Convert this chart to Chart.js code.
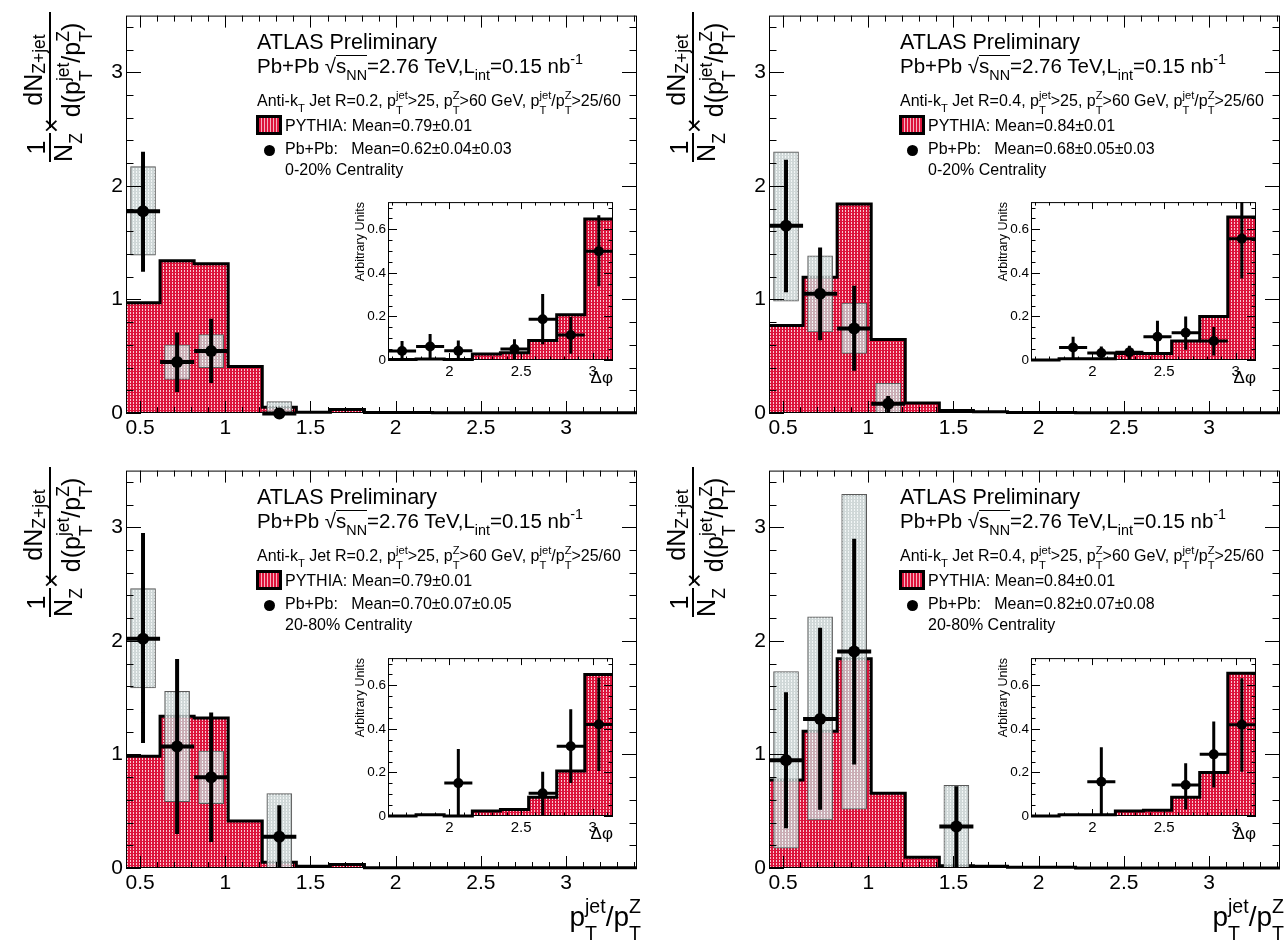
<!DOCTYPE html>
<html>
<head>
<meta charset="utf-8">
<title>Z+jet pT balance, Pb+Pb</title>
<script src="https://cdn.jsdelivr.net/npm/chart.js@4.4.1/dist/chart.umd.min.js"></script>
<style>
  body { margin: 0; background: #fff; }
  #page { position: relative; width: 1286px; height: 943px; overflow: hidden;
          font-family: "Liberation Sans", Arial, sans-serif; color: #000; }
  .panel { position: absolute; width: 643px; }
  .panel canvas { position: absolute; left: 0; top: 0; }
  .tl { position: absolute; line-height: 1; white-space: pre; }
  .sb { font-size: 70%; position: relative; top: 0.55em; }
  .sp { font-size: 70%; position: relative; top: -0.6em; }
  .ss { display: inline-block; position: relative; font-size: 70%; line-height: 1; }
  .ss .u { position: relative; top: -0.65em; }
  .ss .d { position: absolute; left: 0; top: 0.7em; }
  .ov { display: inline-block; line-height: 1; border-top: 1.5px solid #000; }
  .ytitle { position: absolute; width: 160px; height: 80px; font-size: 25px;
            transform: rotate(-90deg); transform-origin: 0 0; }
  .ytitle .t { position: absolute; line-height: 1; white-space: pre; text-align: center; }
  .ytitle .bar { position: absolute; top: 29px; height: 2px; background: #000; }
  .lbox { position: absolute; box-sizing: border-box; border: 3px solid #000;
          background: repeating-linear-gradient(90deg, #dc143c 0 2px, #f4b3c1 2px 3px); }
  .dot { position: absolute; width: 11px; height: 11px; border-radius: 50%; background: #000; }
</style>
</head>
<body>
<div id="page"></div>
<script>
// main panels: p_T^jet / p_T^Z bins
var edges = [0.417, 0.617, 0.817, 1.017, 1.217, 1.417, 1.617, 1.817, 2.017, 2.217, 2.417, 2.617, 2.817, 3.017, 3.217, 3.417];
var xTicks = [0.5, 1, 1.5, 2, 2.5, 3];
var yTicks = [0, 1, 2, 3];

// inset: delta phi bins (pi/2 .. pi)
var dphiEdges = [1.571, 1.767, 1.963, 2.160, 2.356, 2.553, 2.749, 2.945, 3.142];
var dphiTicks = [2, 2.5, 3];
var auTicks = [0, 0.2, 0.4, 0.6];

// R=0.2, 0-20%
var pythiaA = [0.97, 1.34, 1.315, 0.41, 0.05, 0.006, 0.03, 0.004, 0.004, 0.003, 0.003, 0.003, 0.003, 0.003, 0.003];
var ppA_x = [0.517, 0.717, 0.917, 1.317];
var ppA_y = [1.776, 0.45, 0.545, -0.005];
var ppA_lo = [1.245, 0.186, 0.265, -0.02];
var ppA_hi = [2.30, 0.71, 0.83, 0.02];
var sysA_lo = [1.39, 0.295, 0.40, 0];
var sysA_hi = [2.17, 0.60, 0.69, 0.10];
var inPyA = [0.002, 0.005, 0.002, 0.027, 0.033, 0.089, 0.208, 0.647];
var inA_x = [1.669, 1.865, 2.062, 2.454, 2.651, 2.847, 3.043];
var inA_y = [0.041, 0.062, 0.042, 0.05, 0.187, 0.115, 0.499];
var inA_lo = [0, 0, 0, 0, 0.072, 0.029, 0.339];
var inA_hi = [0.087, 0.119, 0.09, 0.095, 0.303, 0.198, 0.665];

// R=0.4, 0-20%
var pythiaB = [0.77, 1.195, 1.84, 0.647, 0.087, 0.023, 0.01, 0.005, 0.005, 0.002, 0.002, 0.002, 0.002, 0.002, 0.002];
var ppB_x = [0.517, 0.717, 0.917, 1.117];
var ppB_y = [1.65, 1.05, 0.744, 0.081];
var ppB_lo = [1.064, 0.64, 0.373, 0];
var ppB_hi = [2.23, 1.457, 1.12, 0.15];
var sysB_lo = [0.985, 0.714, 0.525, 0];
var sysB_hi = [2.30, 1.385, 0.968, 0.262];
var inPyB = [0, 0.006, 0.006, 0.03, 0.03, 0.087, 0.2, 0.657];
var inB_x = [1.865, 2.062, 2.258, 2.454, 2.651, 2.847, 3.043];
var inB_y = [0.057, 0.032, 0.036, 0.107, 0.125, 0.087, 0.557];
var inB_lo = [0.009, 0, 0, 0.027, 0.047, 0.021, 0.374];
var inB_hi = [0.107, 0.062, 0.066, 0.18, 0.2, 0.152, 0.73];

// R=0.2, 20-80%
var pythiaC = [0.985, 1.336, 1.32, 0.415, 0.05, 0.015, 0.03, 0.003, 0.003, 0.003, 0.003, 0.003, 0.003, 0.003, 0.003];
var ppC_x = [0.517, 0.717, 0.917, 1.317];
var ppC_y = [2.02, 1.07, 0.80, 0.275];
var ppC_lo = [1.10, 0.30, 0.23, 0];
var ppC_hi = [2.95, 1.84, 1.37, 0.553];
var sysC_lo = [1.585, 0.585, 0.567, 0];
var sysC_hi = [2.46, 1.555, 1.03, 0.655];
var inPyC = [0, 0.006, 0, 0.023, 0.03, 0.086, 0.207, 0.65];
var inC_x = [2.062, 2.651, 2.847, 3.043];
var inC_y = [0.151, 0.104, 0.32, 0.42];
var inC_lo = [0, 0, 0.151, 0.207];
var inC_hi = [0.308, 0.203, 0.49, 0.635];

// R=0.4, 20-80%
var pythiaD = [0.775, 1.205, 1.842, 0.658, 0.094, 0.02, 0.015, 0.006, 0.006, 0, 0, 0, 0, 0, 0];
var ppD_x = [0.517, 0.717, 0.917, 1.517];
var ppD_y = [0.95, 1.313, 1.906, 0.365];
var ppD_lo = [0.351, 0.512, 0.912, 0];
var ppD_hi = [1.547, 2.117, 2.90, 0.72];
var sysD_lo = [0.175, 0.424, 0.518, 0];
var sysD_hi = [1.731, 2.213, 3.29, 0.728];
var inPyD = [0, 0.006, 0.006, 0.023, 0.026, 0.086, 0.2, 0.656];
var inD_x = [2.062, 2.651, 2.847, 3.043];
var inD_y = [0.157, 0.142, 0.283, 0.419];
var inD_lo = [0, 0.03, 0.131, 0.203];
var inD_hi = [0.316, 0.242, 0.434, 0.633];

var panels = [
  { left: 0, top: 0, h: 455, insetTop: 192, bottom: false,
    R: '0.2', pyMean: '0.79±0.01', ppMean: '0.62±0.04±0.03', cent: '0-20%',
    py: pythiaA, px: ppA_x, pv: ppA_y, lo: ppA_lo, hi: ppA_hi, slo: sysA_lo, shi: sysA_hi,
    ipy: inPyA, ix: inA_x, iv: inA_y, ilo: inA_lo, ihi: inA_hi },
  { left: 643, top: 0, h: 455, insetTop: 192, bottom: false,
    R: '0.4', pyMean: '0.84±0.01', ppMean: '0.68±0.05±0.03', cent: '0-20%',
    py: pythiaB, px: ppB_x, pv: ppB_y, lo: ppB_lo, hi: ppB_hi, slo: sysB_lo, shi: sysB_hi,
    ipy: inPyB, ix: inB_x, iv: inB_y, ilo: inB_lo, ihi: inB_hi },
  { left: 0, top: 455, h: 488, insetTop: 193, bottom: true,
    R: '0.2', pyMean: '0.79±0.01', ppMean: '0.70±0.07±0.05', cent: '20-80%',
    py: pythiaC, px: ppC_x, pv: ppC_y, lo: ppC_lo, hi: ppC_hi, slo: sysC_lo, shi: sysC_hi,
    ipy: inPyC, ix: inC_x, iv: inC_y, ilo: inC_lo, ihi: inC_hi },
  { left: 643, top: 455, h: 488, insetTop: 193, bottom: true,
    R: '0.4', pyMean: '0.84±0.01', ppMean: '0.82±0.07±0.08', cent: '20-80%',
    py: pythiaD, px: ppD_x, pv: ppD_y, lo: ppD_lo, hi: ppD_hi, slo: sysD_lo, shi: sysD_hi,
    ipy: inPyD, ix: inD_x, iv: inD_y, ilo: inD_lo, ihi: inD_hi }
];

Chart.defaults.font.family = '"Liberation Sans", Arial, sans-serif';
Chart.defaults.color = '#000';

function makePattern(base, mark) {
  var c = document.createElement('canvas');
  c.width = 3; c.height = 3;
  var g = c.getContext('2d');
  g.fillStyle = base; g.fillRect(0, 0, 3, 3);
  g.fillStyle = mark; g.fillRect(1, 0, 1, 2);
  return g.createPattern(c, 'repeat');
}
var redPat = makePattern('#dc143c', '#f8c8d2');
var grayPat = makePattern('rgba(198,208,208,0.82)', 'rgba(250,252,252,0.82)');

// error bars on the data points (stat. errors + bin width)
var errBars = {
  id: 'errBars',
  afterDatasetsDraw: function (chart) {
    var ctx = chart.ctx, a = chart.chartArea, xs = chart.scales.x, ys = chart.scales.y;
    chart.data.datasets.forEach(function (ds) {
      if (!ds.errLo) return;
      ctx.save();
      ctx.beginPath();
      ctx.rect(a.left, a.top, a.right - a.left, a.bottom - a.top + 6);
      ctx.clip();
      ctx.strokeStyle = '#000';
      ctx.lineWidth = ds.errWidth;
      ctx.beginPath();
      ds.data.forEach(function (p, j) {
        var px = xs.getPixelForValue(p.x), py = ys.getPixelForValue(p.y);
        ctx.moveTo(px, ys.getPixelForValue(ds.errLo[j]));
        ctx.lineTo(px, ys.getPixelForValue(ds.errHi[j]));
        ctx.moveTo(xs.getPixelForValue(p.x - ds.halfBin), py);
        ctx.lineTo(xs.getPixelForValue(p.x + ds.halfBin), py);
      });
      ctx.stroke();
      ctx.restore();
    });
  }
};

function tickValues(min, max, step) {
  var out = [], k0 = Math.ceil(min / step - 1e-6), k1 = Math.floor(max / step + 1e-6);
  for (var k = k0; k <= k1; k++) out.push(k * step);
  return out;
}
function isMajor(v, major) {
  return Math.abs(v / major - Math.round(v / major)) < 1e-6;
}

// ROOT style frame with inward ticks on all four sides
var rootFrame = {
  id: 'rootFrame',
  afterDraw: function (chart, args, o) {
    if (!o || !o.xMinor) return;
    var ctx = chart.ctx, a = chart.chartArea, xs = chart.scales.x, ys = chart.scales.y;
    ctx.save();
    ctx.strokeStyle = '#000';
    ctx.lineWidth = 1;
    ctx.strokeRect(a.left + 0.5, a.top + 0.5, a.right - a.left - 1, a.bottom - a.top - 1);
    ctx.beginPath();
    tickValues(xs.min, xs.max, o.xMinor).forEach(function (v) {
      var L = isMajor(v, o.xMajor) ? o.xLen : o.xLen / 2;
      var px = Math.round(xs.getPixelForValue(v)) + 0.5;
      ctx.moveTo(px, a.bottom); ctx.lineTo(px, a.bottom - L);
      ctx.moveTo(px, a.top); ctx.lineTo(px, a.top + L);
    });
    tickValues(ys.min, ys.max, o.yMinor).forEach(function (v) {
      var L = isMajor(v, o.yMajor) ? o.yLen : o.yLen / 2;
      var py = Math.round(ys.getPixelForValue(v)) + 0.5;
      ctx.moveTo(a.left, py); ctx.lineTo(a.left + L, py);
      ctx.moveTo(a.right, py); ctx.lineTo(a.right - L, py);
    });
    ctx.stroke();
    ctx.restore();
  }
};
Chart.register(errBars, rootFrame);

function xy(xs, ys) {
  return xs.map(function (x, i) { return { x: x, y: ys[i] }; });
}
function histPoints(e, vals) {
  return e.map(function (x, i) { return { x: x, y: vals[Math.min(i, vals.length - 1)] }; });
}
function setTicks(list) {
  return function (s) { s.ticks = list.map(function (v) { return { value: v }; }); };
}
function plainLabel(v) { return String(v); }

function mainChart(canvas, p) {
  var xh = p.h - 13 - 400;
  return new Chart(canvas, {
    type: 'scatter',
    data: {
      datasets: [
        { type: 'scatter', data: xy(p.px, p.pv), errLo: p.lo, errHi: p.hi, halfBin: 0.1, errWidth: 4,
          pointRadius: 6, backgroundColor: '#000', borderWidth: 0, clip: false, order: 1 },
        { type: 'bar', data: p.px.map(function (x, i) { return { x: x, y: [p.slo[i], p.shi[i]] }; }),
          barThickness: 25, backgroundColor: grayPat, borderColor: '#5a5a5a', borderWidth: 1,
          borderSkipped: false, order: 2 },
        { type: 'line', data: histPoints(edges, p.py), stepped: true, fill: 'origin',
          backgroundColor: redPat, borderColor: '#000', borderWidth: 3, borderJoinStyle: 'miter',
          pointRadius: 0, order: 3, clip: { left: 0, top: 0, right: 0, bottom: 3 } }
      ]
    },
    options: {
      responsive: false, animation: false, devicePixelRatio: 1, events: [],
      layout: { padding: { left: 0, right: 2, top: 13, bottom: 0 } },
      plugins: {
        legend: { display: false }, tooltip: { enabled: false },
        rootFrame: { xMajor: 0.5, xMinor: 0.1, xLen: 12, yMajor: 1, yMinor: 0.2, yLen: 15 }
      },
      scales: {
        x: { type: 'linear', min: edges[0], max: edges[edges.length - 1], offset: false,
             grid: { display: false, drawTicks: false }, border: { display: false },
             afterBuildTicks: setTicks(xTicks),
             afterFit: function (s) { s.height = xh; },
             ticks: { font: { size: 21 }, padding: 3, maxRotation: 0, autoSkip: false, callback: plainLabel } },
        y: { type: 'linear', min: 0, max: 3.5,
             grid: { display: false, drawTicks: false }, border: { display: false },
             afterBuildTicks: setTicks(yTicks),
             afterFit: function (s) { s.width = 126; },
             ticks: { font: { size: 21 }, padding: 3, autoSkip: false, callback: plainLabel } }
      }
    }
  });
}

function insetChart(canvas, p) {
  return new Chart(canvas, {
    type: 'scatter',
    data: {
      datasets: [
        { type: 'scatter', data: xy(p.ix, p.iv), errLo: p.ilo, errHi: p.ihi,
          halfBin: (dphiEdges[1] - dphiEdges[0]) / 2, errWidth: 3,
          pointRadius: 5, backgroundColor: '#000', borderWidth: 0, clip: false, order: 1 },
        { type: 'line', data: histPoints(dphiEdges, p.ipy), stepped: true, fill: 'origin',
          backgroundColor: redPat, borderColor: '#000', borderWidth: 3, borderJoinStyle: 'miter',
          pointRadius: 0, order: 2, clip: { left: 0, top: 0, right: 0, bottom: 3 } }
      ]
    },
    options: {
      responsive: false, animation: false, devicePixelRatio: 1, events: [],
      layout: { padding: { left: 0, right: 5, top: 8, bottom: 0 } },
      plugins: {
        legend: { display: false }, tooltip: { enabled: false },
        rootFrame: { xMajor: 0.5, xMinor: 0.1, xLen: 7, yMajor: 0.2, yMinor: 0.05, yLen: 9 }
      },
      scales: {
        x: { type: 'linear', min: dphiEdges[0], max: dphiEdges[dphiEdges.length - 1], offset: false,
             grid: { display: false, drawTicks: false }, border: { display: false },
             afterBuildTicks: setTicks(dphiTicks),
             afterFit: function (s) { s.height = 42; },
             ticks: { font: { size: 15 }, padding: 3, maxRotation: 0, autoSkip: false, callback: plainLabel },
             title: { display: true, text: 'Δφ', align: 'end', font: { size: 17 }, padding: { top: 0, bottom: 13 } } },
        y: { type: 'linear', min: 0, max: 0.725,
             grid: { display: false, drawTicks: false }, border: { display: false },
             afterBuildTicks: setTicks(auTicks),
             afterFit: function (s) { s.width = 50; },
             ticks: { font: { size: 13.5 }, padding: 2, autoSkip: false, callback: plainLabel },
             title: { display: true, text: 'Arbitrary Units', align: 'end', font: { size: 12.5 }, padding: { top: 15, bottom: 0 } } }
      }
    }
  });
}

function ss(up, down) {
  return '<span class="ss"><span class="u">' + up + '</span><span class="d">' + down + '</span></span>';
}
function tl(x, base, size, html) {
  return '<div class="tl" style="left:' + x + 'px;top:' + (base - 0.8465 * size).toFixed(1) +
    'px;font-size:' + size + 'px">' + html + '</div>';
}
function yTitleHtml() {
  return '<div class="ytitle" style="left:20px;top:163px">' +
    '<div class="bar" style="left:1px;width:29px"></div>' +
    '<span class="t" style="left:1px;width:29px;top:4px">1</span>' +
    '<span class="t" style="left:0;width:31px;top:31px">N<span class="sb">Z</span></span>' +
    '<span class="t" style="left:30px;width:14px;top:19px">×</span>' +
    '<div class="bar" style="left:35px;width:116px"></div>' +
    '<span class="t" style="left:35px;width:116px;top:1px">dN<span class="sb" style="top:0.17em">Z+jet</span></span>' +
    '<span class="t" style="left:35px;width:116px;top:39px">d(p' + ss('jet', 'T') + '/p' + ss('Z', 'T') + ')</span>' +
    '</div>';
}
function textHtml(p) {
  return tl(257, 50, 21.5, 'ATLAS Preliminary') +
    tl(257, 72, 20.5, 'Pb+Pb √<span class="ov">s<span class="sb">NN</span></span>=2.76 TeV,L<span class="sb">int</span>=0.15 nb<span class="sp">-1</span>') +
    tl(257, 106.5, 16, 'Anti-k<span class="sb">T</span> Jet R=' + p.R + ', p' + ss('jet', 'T') + '&gt;25, p' + ss('Z', 'T') +
      '&gt;60 GeV, p' + ss('jet', 'T') + '/p' + ss('Z', 'T') + '&gt;25/60') +
    '<div class="lbox" style="left:256px;top:115px;width:26px;height:20px"></div>' +
    tl(285, 131, 16, 'PYTHIA: Mean=' + p.pyMean) +
    '<div class="dot" style="left:263.5px;top:144.5px"></div>' +
    tl(285, 154.3, 16, 'Pb+Pb:   Mean=' + p.ppMean) +
    tl(285, 175, 16, p.cent + ' Centrality');
}
function xTitleHtml() {
  return '<div class="tl" style="right:2px;top:448px;font-size:28px">p' + ss('jet', 'T') + '/p' + ss('Z', 'T') + '</div>';
}

var page = document.getElementById('page');
panels.forEach(function (p) {
  var div = document.createElement('div');
  div.className = 'panel';
  div.style.left = p.left + 'px';
  div.style.top = p.top + 'px';
  div.style.height = p.h + 'px';
  div.innerHTML =
    '<canvas width="643" height="' + p.h + '" style="width:643px;height:' + p.h + 'px"></canvas>' +
    '<canvas width="280" height="210" style="left:338px;top:' + p.insetTop + 'px;width:280px;height:210px"></canvas>' +
    yTitleHtml() + textHtml(p) + (p.bottom ? xTitleHtml() : '');
  page.appendChild(div);
  var cv = div.querySelectorAll('canvas');
  mainChart(cv[0], p);
  insetChart(cv[1], p);
});
</script>
</body>
</html>
